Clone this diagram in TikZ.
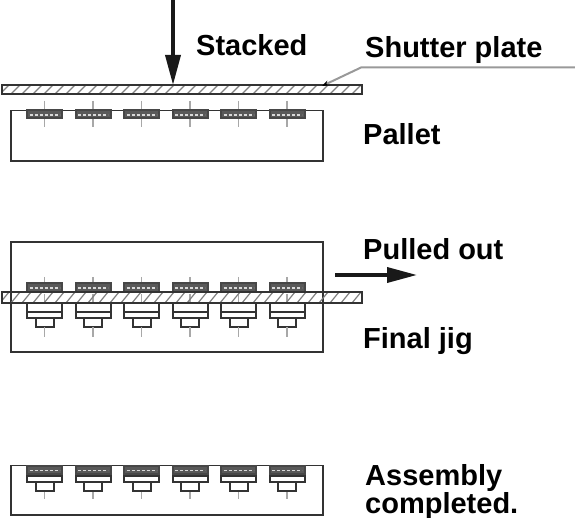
\documentclass[tikz,border=0pt]{standalone}
\usepackage{fontspec}
\setmainfont{Liberation Sans}
\usetikzlibrary{arrows.meta}
\definecolor{ink}{gray}{0.2}
\definecolor{cline}{gray}{0.66}
\tikzset{
  outline/.style={draw=ink,line width=1.9pt},
  part/.style={draw=ink,line width=2pt,fill=white},
  hatchpart/.style={draw=ink!90!white,line width=2pt,fill=black!65},
  centre/.style={draw=cline,line width=1.6pt,dash pattern=on 9pt off 3pt on 2pt off 3pt},
  lab/.style={anchor=base west,inner sep=0pt,font=\fontsize{29}{30}\selectfont\bfseries},
  bigarrow/.style={draw=black!90,line width=3.6pt,-{Triangle[length=30pt,width=15pt]}},
}
\newcommand{\hatchplate}[2]{%
  \begin{scope}
    \clip (2,#1) rectangle (362,#2);
    \foreach \hx in {0,11,...,370}
      \draw[black!50,line width=1.2pt] (\hx,#2) -- ++(9,#1-#2);
  \end{scope}
  \draw[draw=ink,line width=1.9pt] (2,#1) rectangle (362,#2);
}
\newcommand{\lowerparts}[2]{% top y, mid y
  \foreach \c in {44.5,93,141.5,190,238.5,287} {
    \draw[part] (\c-9,#2) rectangle (\c+9,#2+9);
    \draw[part] (\c-17.5,#1) rectangle (\c+17.5,#2);
    \draw[ink,line width=1.8pt] (\c-17.5,#2-6) -- (\c+17.5,#2-6);
  }
}
\newcommand{\toppart}[2]{%
  \foreach \c in {44.5,93,141.5,190,238.5,287} {
    \draw[hatchpart] (\c-17.5,#1) rectangle (\c+17.5,#2);
    \draw[white!85!black,line width=1.6pt,dash pattern=on 3pt off 2pt] (\c-15,{(#1+#2)/2+0.5}) -- (\c+15,{(#1+#2)/2+0.5});
  }
}
\begin{document}
\begin{tikzpicture}[x=1pt,y=-1pt]
\useasboundingbox (0,0) rectangle (575,518);
% Pallet
\foreach \c in {44.5,93,141.5,190,238.5,287}
  \draw[centre] (\c,101) -- (\c,129);
\draw[outline] (11,110.5) rectangle (323,161);
\toppart{110.5}{118.5}
\foreach \c in {44.5,93,141.5,190,238.5,287}
  \draw[cline,line width=1.6pt] (\c,101) -- (\c,109);
\hatchplate{85}{94}
% Final jig
\draw[outline] (11,242) rectangle (323,352);
\foreach \c in {44.5,93,141.5,190,238.5,287}
  \draw[centre] (\c,277) -- (\c,337);
\toppart{283}{292}
\lowerparts{303}{318}
\foreach \c in {44.5,93,141.5,190,238.5,287}
  \draw[cline,line width=1.6pt] (\c,327) -- (\c,337);
\hatchplate{292}{303}
% Assembly
\foreach \c in {44.5,93,141.5,190,238.5,287}
  \draw[centre] (\c,490) -- (\c,499);
\draw[outline] (11,465.5) rectangle (323,515);
\lowerparts{474}{482}
\toppart{466}{474}
% Labels
\node[lab] (stacked) at (196,55.5) {Stacked};
\node[lab] (shutter) at (365,57.5) {Shutter plate};
\node[lab] (pallet) at (363,144.5) {Pallet};
\node[lab] (pulled) at (363,259.5) {Pulled out};
\node[lab] (finaljig) at (363,348) {Final jig};
\node[lab] (assembly) at (365,485) {Assembly};
\node[lab] (completed) at (365,513) {completed.};
% Arrows
\coordinate (stackstart) at (173,0);
\coordinate (stackend) at (173,85);
\draw[bigarrow] (stackstart) -- (stackend);
\coordinate (pullstart) at (335,275);
\coordinate (pullend) at (417,275);
\draw[bigarrow] (pullstart) -- (pullend);
% Leader
\coordinate (leadstart) at (575,67.5);
\coordinate (leadknee) at (361,67.5);
\coordinate (leadend) at (322,86);
\draw[draw=black!40,line width=2pt,-{Stealth[length=7pt,width=5pt,black]}] (leadstart) -- (leadknee) -- (leadend);
\end{tikzpicture}
\end{document}
